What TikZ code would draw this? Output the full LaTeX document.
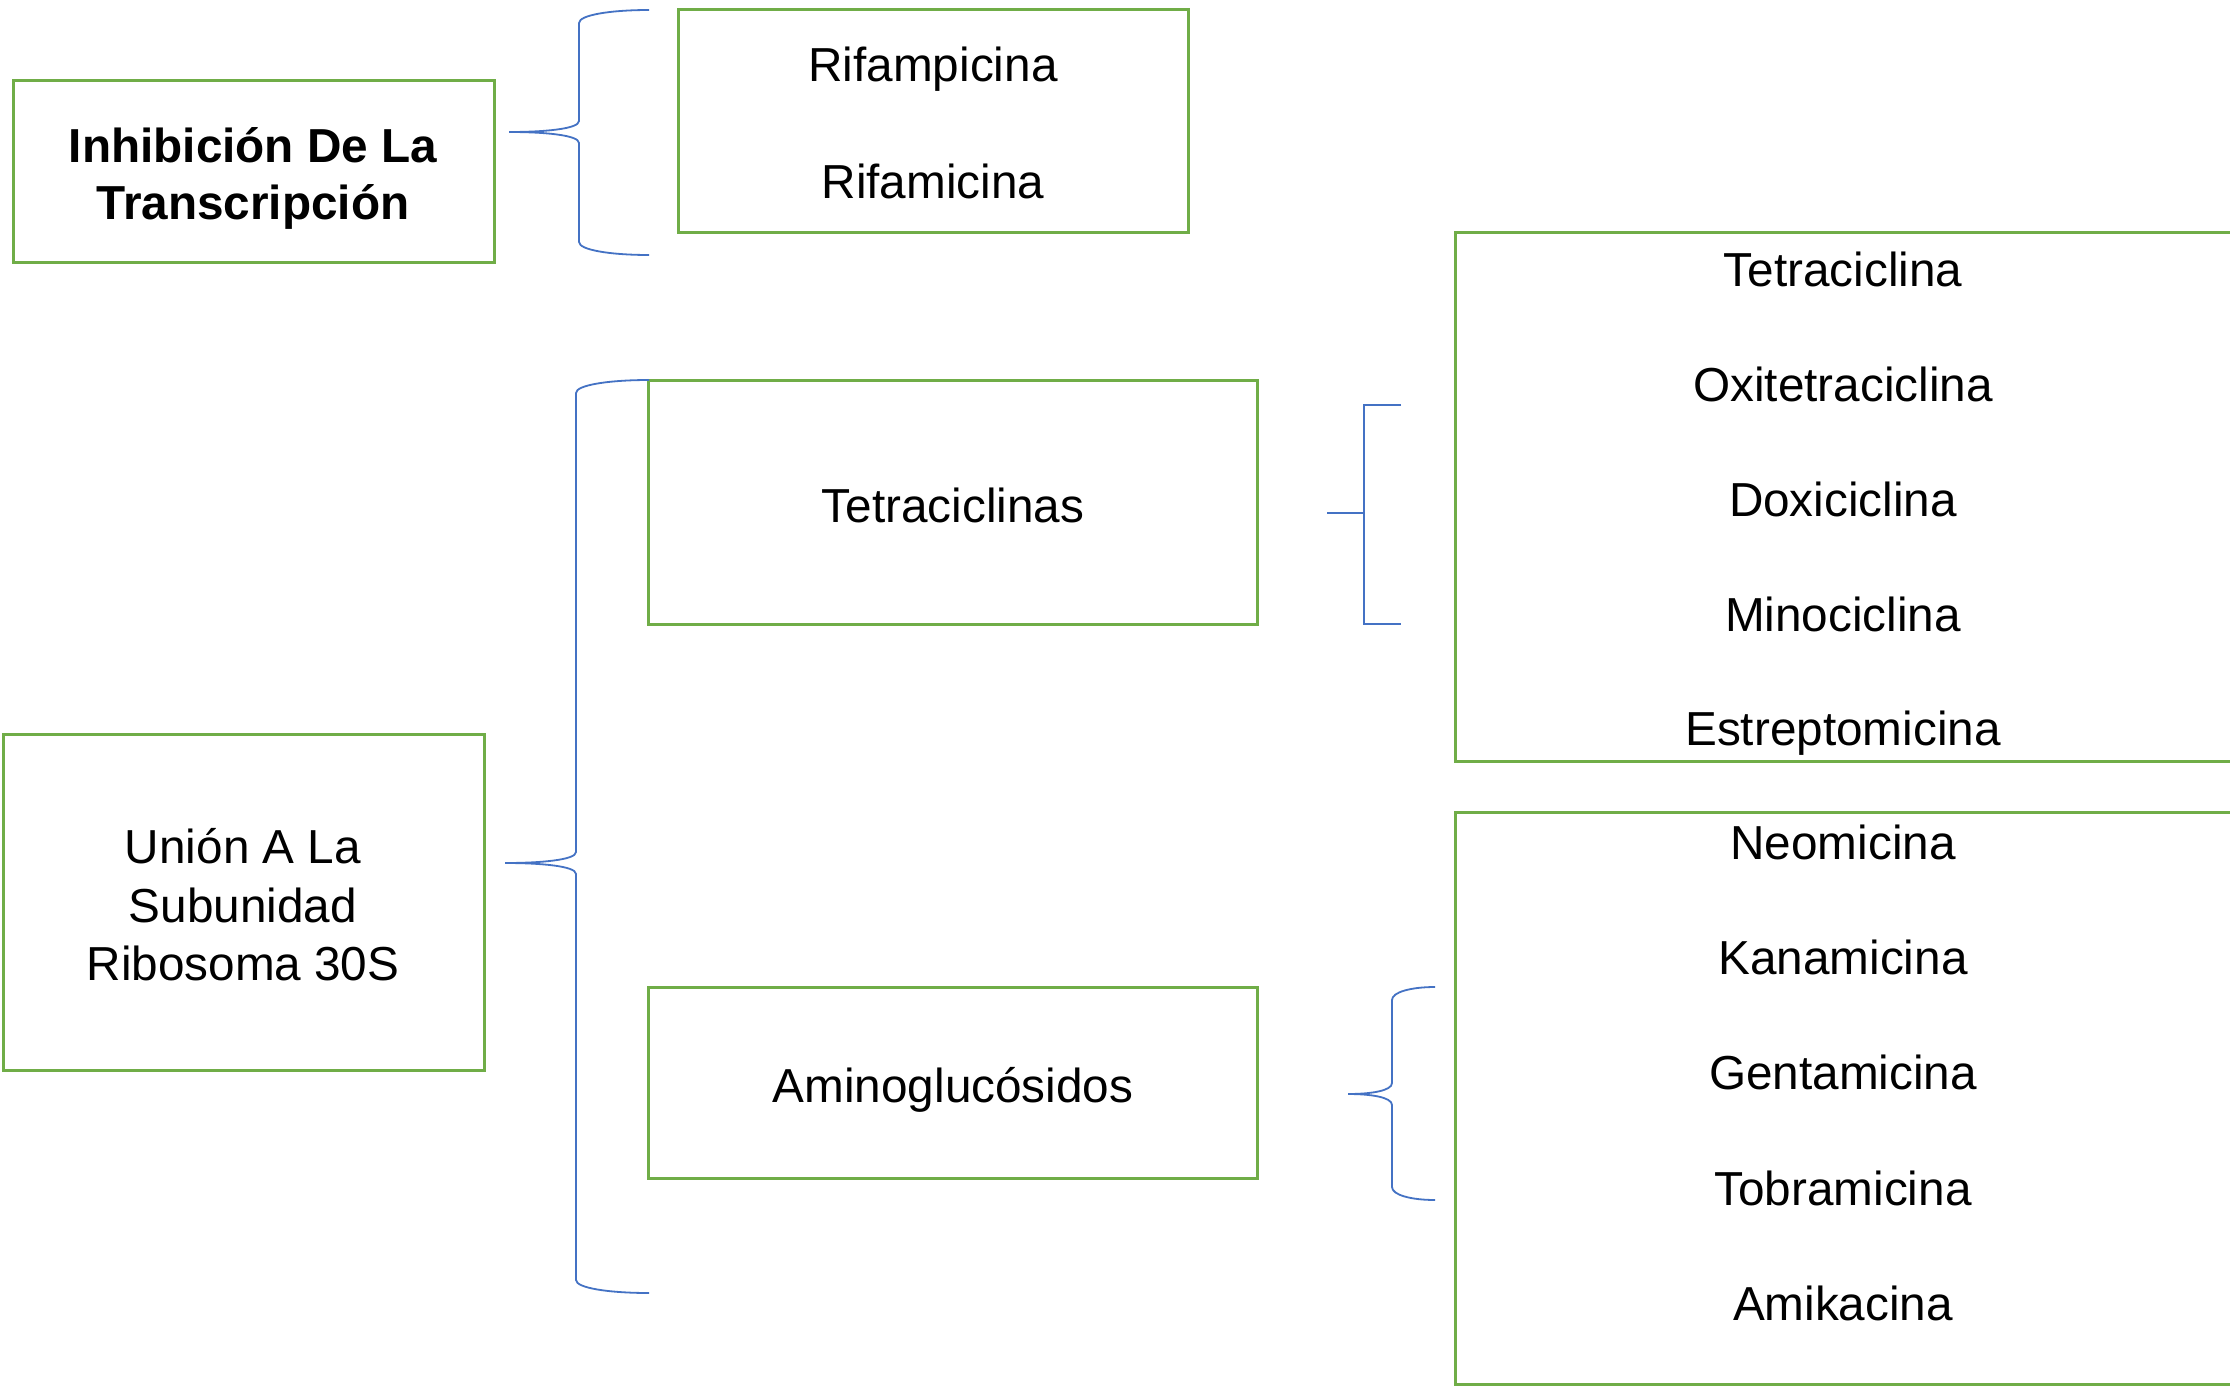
\documentclass[tikz,border=0pt]{standalone}
\usepackage{fontspec}
\setmainfont{Liberation Sans}
\definecolor{grn}{HTML}{70AD47}
\definecolor{blu}{HTML}{4472C4}
\newcommand\curlybrace[7]{% name, xtip, xv, xend, ytop, ymid, ybot
 \coordinate (#1top) at (#4,#5);
 \coordinate (#1tip) at (#2,#6);
 \coordinate (#1bot) at (#4,#7);
 \draw[brc] (#1top) .. controls (#3+0.45*#4-0.45*#3,#5) and (#3,#5+5) .. (#3,#5+13)
   -- (#3,#6-11) .. controls (#3,#6-3) and (#2+0.5*#3-0.5*#2,#6) .. (#1tip)
   .. controls (#2+0.5*#3-0.5*#2,#6) and (#3,#6+3) .. (#3,#6+11)
   -- (#3,#7-13) .. controls (#3,#7-5) and (#3+0.45*#4-0.45*#3,#7) .. (#1bot);}
\begin{document}
\begin{tikzpicture}[x=1pt,y=-1pt,
  box/.style={draw=grn,line width=3pt,rectangle,inner sep=0pt},
  lbl/.style={anchor=base,inner sep=0pt,font=\fontsize{47.7}{58}\selectfont},
  blbl/.style={anchor=base,inner sep=0pt,font=\bfseries\fontsize{47.7}{58}\selectfont},
  brc/.style={draw=blu,line width=1.8pt}]
\clip (0,0) rectangle (2230,1386);
\fill[white] (0,0) rectangle (2230,1386);

% boxes
\node[box,minimum width=481,minimum height=181] (inh) at (253.5,171.5) {};
\node[box,minimum width=510,minimum height=222] (rif) at (933,121) {};
\node[box,minimum width=777,minimum height=529] (tlist) at (1843.5,496.5) {};
\node[box,minimum width=609,minimum height=244] (tet) at (952.5,502) {};
\node[box,minimum width=481,minimum height=336] (union) at (243.5,902) {};
\node[box,minimum width=609,minimum height=191] (amino) at (952.5,1082.5) {};
\node[box,minimum width=777,minimum height=572] (alist) at (1843.5,1098) {};

% texts
\node[blbl] (inh1) at (253,162) {Inhibición De La};
\node[blbl] (inh2) at (253,219) {Transcripción};
\node[lbl] (rif1) at (933,82) {Rifampicina};
\node[lbl] (rif2) at (933,198) {Rifamicina};
\node[lbl] (tet0) at (953,522) {Tetraciclinas};
\node[lbl] (ami0) at (953,1102) {Aminoglucósidos};
\node[lbl] (un1) at (243,863) {Unión A La};
\node[lbl] (un2) at (243,922) {Subunidad};
\node[lbl] (un3) at (243,980) {Ribosoma 30S};
\node[lbl] (t1) at (1843,286) {Tetraciclina};
\node[lbl] (t2) at (1843,401) {Oxitetraciclina};
\node[lbl] (t3) at (1843,516) {Doxiciclina};
\node[lbl] (t4) at (1843,631) {Minociclina};
\node[lbl] (t5) at (1843,745) {Estreptomicina};
\node[lbl] (a1) at (1843,859) {Neomicina};
\node[lbl] (a2) at (1843,974) {Kanamicina};
\node[lbl] (a3) at (1843,1089) {Gentamicina};
\node[lbl] (a4) at (1843,1205) {Tobramicina};
\node[lbl] (a5) at (1843,1320) {Amikacina};

% braces
\curlybrace{bA}{509}{579}{649}{10}{132}{255}
\curlybrace{bB}{505}{576}{649}{380}{863}{1293}
\curlybrace{bC}{1348}{1392}{1435}{987}{1094}{1200}

% square bracket
\coordinate (b2top) at (1401,405);
\coordinate (b2bot) at (1401,624);
\coordinate (b2v) at (1364,513);
\coordinate (b2tip) at (1327,513);
\draw[brc] (b2top) -| (b2v) |- (b2bot);
\draw[brc,line width=2.4pt] (b2tip) -- (b2v);
\end{tikzpicture}
\end{document}
